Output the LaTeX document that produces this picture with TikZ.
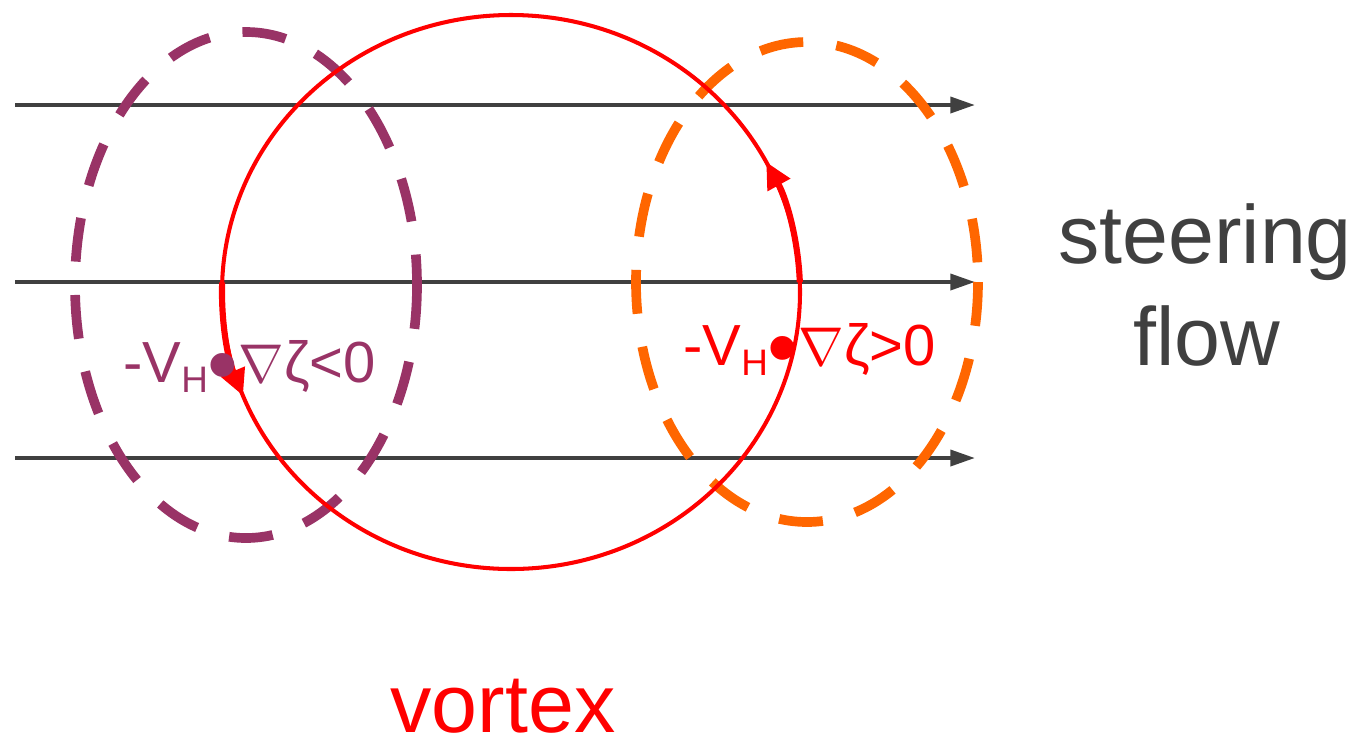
\documentclass[tikz,border=0pt]{standalone}
\usepackage{graphicx}
\usepackage{fontspec}
\setmainfont{Liberation Sans}
\usetikzlibrary{arrows.meta, positioning}

\definecolor{flowgray}{HTML}{404040}
\definecolor{vortexred}{HTML}{FF0000}
\definecolor{negpurple}{HTML}{993366}
\definecolor{posorange}{HTML}{FF6600}

\newcommand{\subH}{\raisebox{-6pt}{\fontsize{21}{21}\selectfont H}}
\newcommand{\bigdot}{\raisebox{-7pt}{\fontsize{50}{50}\selectfont •}}
\newcommand{\grad}{\scalebox{1.25}{$\nabla$}}

\begin{document}
\begin{tikzpicture}[x=0.02cm, y=-0.02cm,
  flowline/.style={draw=flowgray, line width=2.3pt, -{Triangle[length=14pt,width=9pt]}},
  dashring/.style={line width=5.5pt, dash pattern=on 25pt off 19pt},
  spin/.style={draw=vortexred, line width=3.5pt, -{Triangle[length=15pt,width=14pt]}},
  bigtext/.style={font=\fontsize{47}{56}\selectfont, inner sep=0pt},
  gradtext/.style={font=\fontsize{33}{40}\selectfont, inner sep=0pt, anchor=base west}]
  \useasboundingbox (0,0) rectangle (1369,745);

  % steering flow
  \foreach \y [count=\i] in {105,282,458} {
    \coordinate (w\i) at (15,\y);
    \coordinate (e\i) at (975,\y);
    \draw[flowline] (w\i) -- (e\i);
  }

  % dashed rings
  \draw[dashring, draw=negpurple] (246,285) ellipse [x radius=171, y radius=253];
  \draw[dashring, draw=posorange] (807,282) ellipse [x radius=171, y radius=240];

  % vortex
  \coordinate (c) at (511,292);
  \draw[vortexred, line width=2.3pt] (c) ellipse [x radius=289, y radius=277];
  \path (c) ++(182:289 and 277) coordinate (spinL);
  \path (c) ++(-2:289 and 277) coordinate (spinR);
  \draw[spin] (spinL) arc[start angle=182, end angle=158, x radius=289, y radius=277];
  \draw[spin] (spinR) arc[start angle=-2, end angle=-28, x radius=289, y radius=277];

  % labels
  \node[gradtext, negpurple] (neg) at (123,382) {-V\subH\bigdot\grad ζ<0};
  \node[gradtext, vortexred] (pos) at (683,365) {-V\subH\bigdot\grad ζ>0};
  \node[bigtext, flowgray, anchor=base] (steer) at (1205,263) {steering};
  \node[bigtext, flowgray, anchor=base] (flow) at (1207,365) {flow};
  \node[bigtext, vortexred, anchor=base] (vtx) at (503,732) {vortex};
\end{tikzpicture}
\end{document}
